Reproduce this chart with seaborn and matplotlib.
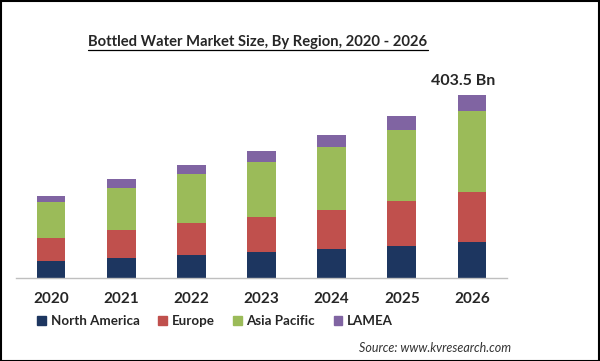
import numpy as np
import pandas as pd
import matplotlib
matplotlib.use("Agg")
import matplotlib.pyplot as plt
from matplotlib.lines import Line2D
from matplotlib.patches import Rectangle
import seaborn as sns

# Data (USD Bn)
years = ["2020", "2021", "2022", "2023", "2024", "2025", "2026"]
north_america = [37.5, 44.1, 50.7, 57.3, 64.0, 70.6, 79.4]
europe = [51.4, 61.7, 70.6, 77.2, 86.0, 99.2, 110.9]
asia_pacific = [78.7, 92.6, 108.7, 121.3, 139.0, 156.6, 178.0]
lamea = [13.2, 19.8, 19.1, 24.3, 26.5, 30.9, 35.2]
regions = ["North America", "Europe", "Asia Pacific", "LAMEA"]
colors = ["#1D3660", "#C0504D", "#9BBB59", "#8064A2"]
total_label = "403.5 Bn"

df = pd.DataFrame({"year": years, "North America": north_america, "Europe": europe,
                   "Asia Pacific": asia_pacific, "LAMEA": lamea})

sns.set_style("white")
plt.rcParams["font.family"] = ["Lato", "DejaVu Sans"]

fig = plt.figure(figsize=(6, 3.61), dpi=100)
ax = fig.add_axes([16 / 600, 1 - 278 / 361, (507 - 16) / 600, 218 / 361])

# stacked bars: draw cumulative totals from the top layer down
cum = df[regions].cumsum(axis=1)
for reg, col in reversed(list(zip(regions, colors))):
    sns.barplot(x=df["year"], y=cum[reg], color=col, width=0.41, ax=ax,
                saturation=1, linewidth=0)

ax.set_xlim(-0.5, 6.5)
ax.set_ylim(0, 480)
ax.set_xlabel("")
ax.set_ylabel("")
ax.set_yticks([])
for s in ["top", "right", "left"]:
    ax.spines[s].set_visible(False)
ax.spines["bottom"].set_color("#BFBFBF")
ax.spines["bottom"].set_linewidth(1)
ax.tick_params(axis="x", length=0, pad=10)
for t in ax.get_xticklabels():
    t.set_fontweight("bold")
    t.set_fontsize(11)

total_2026 = cum["LAMEA"].iloc[-1]
ax.annotate(total_label, (6, total_2026), xytext=(-6, 7), textcoords="offset points",
            ha="center", va="baseline", fontsize=11.5, fontweight="bold")

# legend in original order
handles = [Rectangle((0, 0), 1, 1, color=c) for c in colors]
leg = fig.legend(handles, regions, loc="center", bbox_to_anchor=(215 / 600, 1 - 321 / 361),
                 ncol=4, frameon=False, handlelength=0.65, handleheight=0.65,
                 handletextpad=0.35, columnspacing=1.4, prop={"weight": "bold", "size": 9.6})

# title with underline
title = fig.text(258 / 600, 1 - 42 / 361, "Bottled Water Market Size, By Region, 2020 - 2026",
                 ha="center", va="center", fontsize=10.6, fontweight="bold")
fig.canvas.draw()
bb = title.get_window_extent(fig.canvas.get_renderer())
y_line = (bb.y0 - 1) / fig.bbox.height
fig.add_artist(Line2D([bb.x0 / fig.bbox.width, bb.x1 / fig.bbox.width], [y_line, y_line],
                      transform=fig.transFigure, color="black", linewidth=0.9))

fig.text(511 / 600, 1 - 348 / 361, "Source: www.kvresearch.com", ha="right", va="center",
         fontsize=9, style="italic", color="#333333")

# outer frame
fig.add_artist(Rectangle((0.001, 0.001), 0.997, 0.996, transform=fig.transFigure,
                         fill=False, edgecolor="black", linewidth=1.5))

fig.savefig("out.png", dpi=100)
